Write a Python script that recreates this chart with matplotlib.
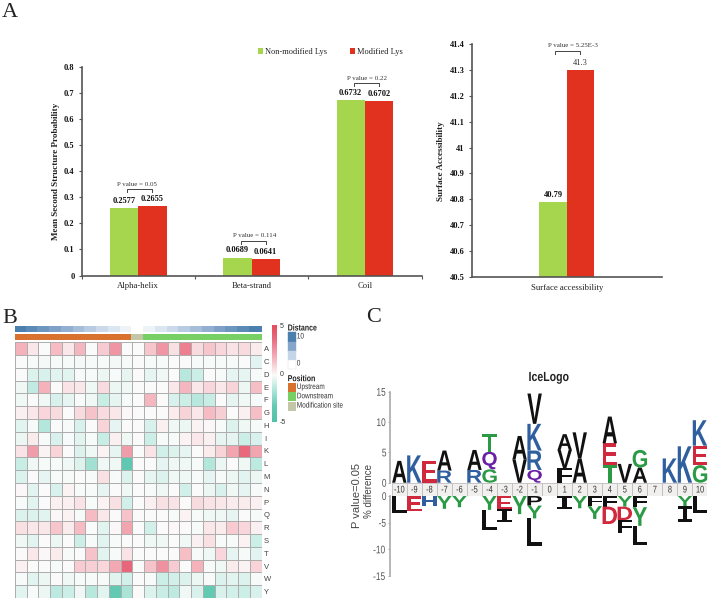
import matplotlib
matplotlib.use("Agg")
import matplotlib.pyplot as plt
import numpy as np
from matplotlib.colors import LinearSegmentedColormap, ListedColormap
from matplotlib.patches import Rectangle
from matplotlib.patheffects import AbstractPathEffect
from matplotlib.transforms import Affine2D
import logging
logging.getLogger('matplotlib.font_manager').setLevel(logging.ERROR)

W, H = 709, 600
SERIF = ['Liberation Serif', 'DejaVu Serif']
SANS = ['Liberation Sans', 'DejaVu Sans']
GREEN, RED = '#a5d64e', '#e1311f'

# ---------- panel A data ----------
structure_cats = ['Alpha-helix', 'Beta-strand', 'Coil']
non_modified = [0.2577, 0.0689, 0.6732]
modified = [0.2655, 0.0641, 0.6702]
structure_p = ['P value = 0.05', 'P value = 0.114', 'P value = 0.22']
structure_ticks = [0, .1, .2, .3, .4, .5, .6, .7, .8]
structure_ticklabels = ['0', '0.1', '0.2', '0.3', '0.4', '0.5', '0.6', '0.7', '0.8']
surface_cat = 'Surface accessibility'
surface_non = 40.79
surface_mod = 41.3
surface_p = 'P value = 5.25E-3'
surface_ticks = [40.5, 40.6, 40.7, 40.8, 40.9, 41, 41.1, 41.2, 41.3, 41.4]
surface_ticklabels = ['40.5', '40.6', '40.7', '40.8', '40.9', '41', '41.1', '41.2', '41.3', '41.4']

# ---------- panel B data ----------
residues = list('ACDEFGHIKLMNPQRSTVWY')
heat_A = [1.8, .5, 0, 1.6, .5, 1.7, 0, 1.2, 2.6, 0, 0, 1.3, 2.6, .7, 3.2, .8, 1.3, .9, .6, .8, .4]
heat_C = [0, -.1, -.15, -.1, -.1, -.15, -.1, -.1, -.15, -.1, 0, -.1, -.1, 0, 0, -.1, -.1, -.1, -.1, 0, -.5]
heat_D = [0, -.6, -.7, -.5, -.5, -.1, -.1, -.3, -.1, -.4, 0, -.4, -.2, 0, -1.3, -.9, 0, -.1, -.4, -.4, -.1]
heat_E = [-.2, -1.1, 1.8, 0, .6, .5, -.2, .8, -.3, -.2, 0, 0, 0, .5, 1.7, .5, .9, .5, 1.0, -.3, 1.5]
heat_F = [-.2, 0, -.2, -.7, -.4, -.1, -.2, -1.0, -.4, -.1, 0, 1.7, 0, -.7, -.9, -1.3, -1.0, 0, -.4, -.2, -.1]
heat_G = [.3, .5, .9, .8, 0, .8, 1.4, .8, .5, .1, 0, 0, 0, .4, 1.0, .5, 1.6, 1.1, 0, .3, 1.5]
heat_H = [-.5, -.1, -1.4, 0, -.1, -.7, 0, 1.0, -.4, 0, 0, -.7, .3, -.2, -.3, .2, .1, -.1, -.6, -.2, -.1]
heat_I = [-.3, .4, -.1, -.7, -.1, -.5, -.1, -1.0, .3, -.2, 0, -.9, -.1, -.1, .2, .5, .3, -.4, -.4, -.9, -.7]
heat_K = [.6, 2.4, .2, 1.0, 0, -.6, -.2, .2, -.4, 2.4, 0, .6, -.8, -.6, -.4, 0, .4, 1.0, 2.2, 3.8, 2.2]
heat_L = [-1.0, -.2, -.1, -.1, -.2, -.6, -1.8, -.2, -.2, -3.5, 0, 0, -.4, -.2, -.2, -.1, -1.4, -.3, 0, -.2, -1.2]
heat_M = [-.6, 0, -.4, -.1, -.1, 0, -.1, .7, -.1, -.6, 0, -.4, -.6, -.2, -.2, -.1, -.4, -.1, -.3, -.5, -.3]
heat_N = [.1, -.5, 0, -.7, .2, -.1, -.1, -.4, 0, -.2, 0, -.1, -.2, 0, -.8, 0, -.3, -.7, -.2, -.4, -.1]
heat_P = [-.1, -.5, 0, .3, .3, .6, -.1, .2, .7, -.8, 0, .3, .7, .6, 0, .8, .6, .5, .4, .4, .3]
heat_Q = [-.6, -.6, -.5, .1, .2, -.1, 1.6, .5, 0, 1.4, 0, 0, 0, -.1, .2, -.1, -.2, -.2, -.4, 0, -.1]
heat_R = [.7, .5, .5, 1.3, .4, 1.6, 0, -.5, .1, 2.2, 0, -.8, 0, .1, 0, -.1, .5, .4, 1.2, .9, .3]
heat_S = [-.2, -.5, 0, -.3, 0, -.9, -.1, -.5, -.1, 0, 0, -.2, -.2, 0, -.2, .3, .7, -.1, -.1, .2, -.9]
heat_T = [0, .5, .1, .4, -.1, 0, 1.4, -.5, -.1, .6, 0, 0, 0, 0, 1.5, -.1, -.2, .9, -.4, -.1, -.5]
heat_V = [.3, 0, 0, -.1, 0, 1.2, 1.1, .9, 2.1, 3.9, 0, 1.4, 2.7, 1.2, 0, 1.8, -.1, -.2, .4, .2, 1.0]
heat_W = [-.1, -.5, -.3, 0, -.2, -.1, -.1, -.1, -.5, -.8, 0, -.1, -.9, -.8, -.6, -.3, -.1, -.6, -.5, -.6, -.1]
heat_Y = [-.5, -.1, -.3, -1.2, -.9, -.2, -1.3, -.5, -3.2, -1.6, 0, -.6, -1.0, -1.2, -.2, -.7, -3.2, -.7, -.8, -.9, -.7]
heat_rows = [heat_A, heat_C, heat_D, heat_E, heat_F, heat_G, heat_H, heat_I, heat_K, heat_L,
             heat_M, heat_N, heat_P, heat_Q, heat_R, heat_S, heat_T, heat_V, heat_W, heat_Y]
distance = [10, 9, 8, 7, 6, 5, 4, 3, 2, 1, 0, 1, 2, 3, 4, 5, 6, 7, 8, 9, 10]
position = [0] * 10 + [2] + [1] * 10
position_names = ['Upstream', 'Downstream', 'Modification site']
position_colors = ['#d9722e', '#78cf64', '#c3c7a8']

# ---------- panel C data (letters listed from the baseline outwards) ----------
logo_positions = list(range(-10, 11))
up_letters = ['A', 'K', 'E', 'RA', '', 'RA', 'GQT', '', 'VA', 'QRKV', '', 'FVA', 'AV', '', 'TEA', 'V', 'AG', '', 'K', 'K', 'GEK']
up_heights = [[3.6], [4.5], [3.6], [2.0, 3.3], [], [2.1, 3.3], [2.2, 2.9, 2.9], [], [3.8, 3.9],
              [2.1, 3.2, 4.4, 5.0], [], [2.4, 3.0, 2.6], [4.0, 4.3], [], [2.9, 3.6, 4.4], [3.1],
              [2.5, 2.9], [], [4.0], [6.0], [2.9, 3.2, 4.2]]
down_letters = ['L', 'E', 'H', 'Y', 'Y', '', 'YL', 'EI', 'Y', 'PYL', '', 'I', 'Y', 'FY', 'FD', 'YDF', 'FYL', '', '', 'YI', 'L']
down_heights = [[3.1], [2.9], [1.9], [2.4], [2.1], [], [2.6, 3.75], [2.5, 2.4], [3.4], [1.8, 2.4, 5.2],
                [], [2.5], [2.3], [1.9, 2.4], [2.0, 3.25], [2.0, 2.5, 2.5], [2.1, 3.5, 3.6], [], [], [1.9, 2.9], [3.1]]
letter_colors = {'A': '#111111', 'V': '#111111', 'L': '#111111', 'I': '#111111', 'F': '#111111', 'P': '#111111',
                 'K': '#2f5f9e', 'R': '#2f5f9e', 'H': '#2f5f9e', 'E': '#d0283c', 'D': '#d0283c',
                 'T': '#2a9a45', 'G': '#2a9a45', 'Y': '#2a9a45', 'Q': '#6a1fa6'}

fig = plt.figure(figsize=(W / 100, H / 100), dpi=100, facecolor='white')
PX = Affine2D().scale(1, -1).translate(0, H)   # pixel coordinates, origin top-left


class Condense(AbstractPathEffect):
    """Narrow a text horizontally about its own centre (stand-in for a narrow font)."""

    def __init__(self, factor):
        super().__init__()
        self.factor = factor

    def draw_path(self, renderer, gc, tpath, affine, rgbFace=None):
        ext = affine.transform_path(tpath).get_extents()
        cx = (ext.x0 + ext.x1) / 2
        t = Affine2D().translate(-cx, 0).scale(self.factor, 1).translate(cx, 0)
        renderer.draw_path(gc, tpath, affine + t, rgbFace)


class CondenseLeft(Condense):
    def draw_path(self, renderer, gc, tpath, affine, rgbFace=None):
        renderer.draw_path(gc, tpath, affine + Affine2D().translate(-self.x0, 0).scale(self.factor, 1).translate(self.x0, 0), rgbFace)

    def at(self, x):
        self.x0 = x
        return self


def add_ax(x0, y0, x1, y1):
    return fig.add_axes([x0 / W, 1 - y1 / H, (x1 - x0) / W, (y1 - y0) / H])


def ftext(x, y, s, **kw):
    kw.setdefault('ha', 'center')
    kw.setdefault('va', 'center')
    return fig.text(x, y, s, transform=PX, **kw)


def narrow_left(x, y, s, factor=.8, **kw):
    kw.setdefault('family', SANS)
    return ftext(x, y, s, ha='left', path_effects=[CondenseLeft(factor).at(x)], **kw)


def style_bar_axes(ax, ticks, labels):
    for s in ['top', 'right']:
        ax.spines[s].set_visible(False)
    for s in ['left', 'bottom']:
        ax.spines[s].set_color('#555555')
        ax.spines[s].set_linewidth(1.2)
    ax.set_yticks(ticks, labels, family=SERIF, fontweight='bold', fontsize=6, color='#111111')
    ax.tick_params(axis='y', length=2.5, width=.8, color='#555555', pad=2.5)


def bracket(ax, x0, x1, ytop_px):
    ax.plot([x0, x0, x1, x1], [ytop_px + 3, ytop_px, ytop_px, ytop_px + 3], transform=PX,
            color='#444444', lw=.7, clip_on=False)


# ---------- A: structure bars ----------
ax = add_ax(81.5, 67, 421.5, 275.5)
x = np.arange(len(structure_cats))
bw = .25
b1 = ax.bar(x - bw / 2, non_modified, bw, color=GREEN, label='Non-modified Lys')
b2 = ax.bar(x + bw / 2, modified, bw, color=RED, label='Modified Lys')
ax.set_xlim(-.5, 2.5)
ax.set_ylim(0, .8)
style_bar_axes(ax, structure_ticks, structure_ticklabels)
ax.set_xticks(x, structure_cats, family=SERIF, fontsize=6.2, color='#222222')
ax.set_xticks([-.5, .5, 1.5, 2.5], minor=True)
ax.tick_params(axis='x', which='major', length=0, pad=5)
ax.tick_params(axis='x', which='minor', length=2, width=.8, color='#555555')
ax.set_ylabel('Mean Second Structure Probability', family=SERIF, fontweight='bold', fontsize=6.6, color='#222222',
              va='center')
ax.yaxis.set_label_coords(56, H - 171.7, transform=Affine2D())
for xi, a, b in zip(x, non_modified, modified):
    ax.annotate(f'{a:.4f}', (xi - bw / 2, a), xytext=(0, 2.2), textcoords='offset points', ha='center', va='bottom',
                family=SERIF, fontweight='bold', fontsize=6, color='#111111')
    ax.annotate(f'{b:.4f}', (xi + bw / 2, b), xytext=(0, 2.2), textcoords='offset points', ha='center', va='bottom',
                family=SERIF, fontweight='bold', fontsize=6, color='#111111')
fig.canvas.draw()
for i, (xi, a, b, p) in enumerate(zip(x, non_modified, modified, structure_p)):
    cx, top = ax.transData.transform((xi, max(a, b)))
    top = H - top - 17
    cx += 1.5
    bracket(ax, cx - 12.5, cx + 12.5, top)
    ftext(cx + (-2.5, 2, 1)[i], top - 5, p, family=SERIF, fontsize=5, color='#333333')
ax.legend(handles=[b1, b2], ncol=2, loc='center left', bbox_to_anchor=(257.5, H - 52), bbox_transform=Affine2D(),
          frameon=False, handlelength=.7, handleheight=.7, handletextpad=.15, columnspacing=2.75,
          borderpad=0, borderaxespad=0, prop={'family': SERIF, 'size': 6.0}, labelcolor='#222222')

# ---------- A: surface accessibility ----------
ax2 = add_ax(471.7, 44.3, 662, 276.7)
bw2 = 27.6 / 190.3
ax2.bar(.5 - bw2 / 2, surface_non - 40.5, bw2, bottom=40.5, color=GREEN)
ax2.bar(.5 + bw2 / 2, surface_mod - 40.5, bw2, bottom=40.5, color=RED)
ax2.set_xlim(0, 1)
ax2.set_ylim(40.5, 41.4)
style_bar_axes(ax2, surface_ticks, surface_ticklabels)
ax2.set_xticks([.5], [surface_cat], family=SERIF, fontsize=6.2, color='#222222')
ax2.tick_params(axis='x', length=0, pad=5)
ax2.set_ylabel('Surface Accessibility', family=SERIF, fontweight='bold', fontsize=6.6, color='#222222', va='center')
ax2.yaxis.set_label_coords(441, H - 161, transform=Affine2D())
ax2.annotate(f'{surface_non:g}', (.5 - bw2 / 2, surface_non), xytext=(0, 2.2), textcoords='offset points',
             ha='center', va='bottom', family=SERIF, fontweight='bold', fontsize=6, color='#111111')
ax2.annotate(f'{surface_mod:g}', (.5 + bw2 / 2, surface_mod), xytext=(0, 2.2), textcoords='offset points',
             ha='center', va='bottom', family=SERIF, fontsize=6, color='#333333')
bracket(ax2, 555, 580.3, 51)
ftext(573.3, 45.7, surface_p, family=SERIF, fontsize=5, color='#333333')

# ---------- panel letters ----------
ftext(2, 17, 'A', ha='left', va='baseline', family=SERIF, fontsize=16, color='#222222')
ftext(2, 323, 'B', ha='left', va='baseline', family=SERIF, fontsize=16, color='#222222')
ftext(366, 322, 'C', ha='left', va='baseline', family=SERIF, fontsize=16, color='#222222')

# ---------- B: heat map ----------
heat = np.array(heat_rows)
nrow, ncol = heat.shape
nodes = [(0, '#4fc0a6'), (.18, '#62cab3'), (.38, '#bdeae0'), (.5, '#fbfbfb'),
         (.68, '#f5b3bc'), (.89, '#e8667a'), (1, '#e4505f')]
cmap = LinearSegmentedColormap.from_list('heat', nodes)
hx0, hx1 = 15, 261.7
axh = add_ax(hx0, 342.3, hx1, 598)
mesh = axh.pcolormesh(heat, cmap=cmap, vmin=-5, vmax=5, edgecolors='#aeaeae', linewidth=.7)
axh.invert_yaxis()
axh.set_xticks([])
axh.yaxis.tick_right()
axh.set_yticks(np.arange(nrow) + .5, residues, family=SANS, fontsize=5.5, color='#444444')
axh.tick_params(axis='y', length=0, pad=1.5)
for s in axh.spines.values():
    s.set_visible(False)

axd = add_ax(hx0, 326, hx1, 332)
dist_cmap = LinearSegmentedColormap.from_list('dist', ['#ffffff', '#c5d5e8', '#85a5cb', '#4a7fae'])
axd.pcolormesh(np.array([distance]), cmap=dist_cmap, vmin=0, vmax=10, edgecolors='face', linewidth=.2)
axd.axis('off')
axp = add_ax(hx0, 333.5, hx1, 340)
axp.pcolormesh(np.array([position]), cmap=ListedColormap(position_colors), vmin=-.5, vmax=2.5,
               edgecolors='face', linewidth=.2)
axp.axis('off')

cax = add_ax(272.3, 325, 277.3, 421.7)
cb = fig.colorbar(mesh, cax=cax, ticks=[-5, 0, 5])
cb.outline.set_visible(False)
cb.solids.set_edgecolor('face')
cax.set_yticks([-5, 0, 5], ['-5', '0', '5'], family=SANS, fontsize=5, color='#333333')
cax.tick_params(length=0, pad=1.5)

legend_dist_colors = ['#4a7fae', '#85a5cb', '#c5d5e8', '#ffffff']
for i, c in enumerate(legend_dist_colors):
    fig.add_artist(Rectangle((288, 332.3 + i * 9.2), 8, 9.2, transform=PX, fc=c, ec='#dddddd' if i == 3 else c, lw=.3))
narrow_left(287.7, 328, 'Distance', fontweight='bold', fontsize=6.3, color='#222222')
narrow_left(296.8, 337, '10', fontsize=5.8, color='#333333')
narrow_left(296.8, 364, '0', fontsize=5.8, color='#333333')
narrow_left(287.7, 378.7, 'Position', fontweight='bold', fontsize=6.3, color='#222222')
for i, (n, c) in enumerate(zip(position_names, position_colors)):
    fig.add_artist(Rectangle((288, 383 + i * 9.3), 8, 9, transform=PX, fc=c, ec='none'))
    narrow_left(296.8, 387.5 + i * 9.3, n, fontsize=5.8, color='#333333')


# ---------- C: IceLogo ----------
class FitBox(AbstractPathEffect):
    """Stretch a text glyph so that it fills a box given in data units."""

    def __init__(self, ax, x0, x1, y0, y1):
        super().__init__()
        self.ax, self.box = ax, (x0, x1, y0, y1)

    def draw_path(self, renderer, gc, tpath, affine, rgbFace=None):
        x0, x1, y0, y1 = self.box
        (tx0, ty0), (tx1, ty1) = self.ax.transData.transform([(x0, y0), (x1, y1)])
        ext = affine.transform_path(tpath).get_extents()
        fit = (Affine2D().translate(-ext.x0, -ext.y0)
               .scale((tx1 - tx0) / ext.width, (ty1 - ty0) / ext.height).translate(tx0, ty0))
        renderer.draw_path(gc, tpath, affine + fit, rgbFace)


def draw_stack(ax, pos, letters, heights, sign):
    base = 0.0
    for ch, h in zip(letters, heights):
        lo, hi = base, base + h
        fam = ['Liberation Mono', 'DejaVu Sans Mono'] if ch == 'I' else SANS
        y0, y1 = (lo, hi) if sign > 0 else (-hi, -lo)
        ax.text(pos, (y0 + y1) / 2, ch, color=letter_colors[ch], family=fam, fontweight='bold', fontsize=5,
                ha='center', va='center', path_effects=[FitBox(ax, pos - .48, pos + .48, y0, y1)])
        base = hi


lx0, lx1 = 391.8, 707.5
axu = add_ax(lx0, 391.7, lx1, 482.7)
axl = add_ax(lx0, 496, lx1, 576)
axu.set_ylim(0, 15)
axl.set_ylim(-15, 0)
for a, ticks, labs in [(axu, [0, 5, 10, 15], ['0', '5', '10', '15']),
                       (axl, [-15, -10, -5, 0], ['-15', '-10', '-5', '0'])]:
    a.set_xlim(-10.5, 10.5)
    a.patch.set_alpha(0)
    for s in ['top', 'right', 'bottom']:
        a.spines[s].set_visible(False)
    a.spines['left'].set_color('#aaaaaa')
    a.spines['left'].set_linewidth(1.2)
    a.spines['left'].set_position(('outward', 1.5))
    a.set_xticks([])
    a.set_yticks(ticks, labs, family=SANS, fontsize=8, color='#555555')
    a.tick_params(axis='y', length=1.5, width=.7, color='#aaaaaa', pad=.3)
    for t in a.get_yticklabels():
        t.set_path_effects([Condense(.75)])
for p, l, h in zip(logo_positions, up_letters, up_heights):
    draw_stack(axu, p, l, h, 1)
for p, l, h in zip(logo_positions, down_letters, down_heights):
    draw_stack(axl, p, l, h, -1)

axs = add_ax(lx0, 483, lx1, 496)
axs.bar(logo_positions, [1] * 21, 1, bottom=0, color='#f1f0ee', edgecolor='#bdbdbd', linewidth=.6)
axs.set_xlim(-10.5, 10.5)
axs.set_ylim(0, 1)
axs.axis('off')
for p in logo_positions:
    axs.text(p, .5, str(p), ha='center', va='center', family=SANS, fontsize=7, color='#333333',
             path_effects=[Condense(.76)])

ftext(548.7, 378, 'IceLogo', family=SANS, fontweight='bold', fontsize=9.5, color='#222222',
      path_effects=[Condense(.8)])
ftext(357, 496, 'P value=0.05', rotation=90, family=SANS, fontsize=8, color='#444444')
ftext(369, 491, '% difference', rotation=90, family=SANS, fontsize=7, color='#444444')

fig.savefig('out.png', dpi=100, facecolor='white')
